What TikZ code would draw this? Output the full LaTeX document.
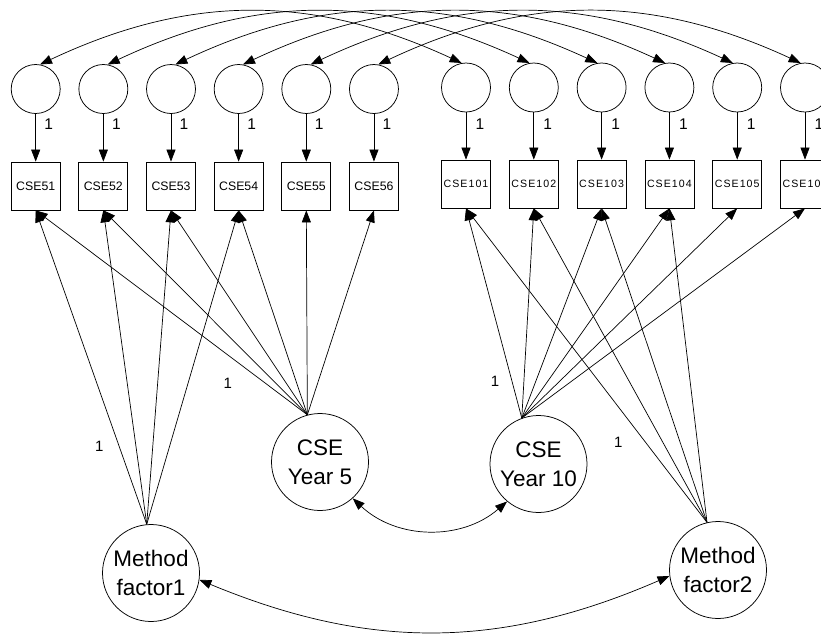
\documentclass[tikz,border=0pt]{standalone}
\usepackage{fontspec}
\setmainfont{Liberation Sans}
\newfontfamily\spacedfont[LetterSpace=10]{Liberation Sans}
\usetikzlibrary{arrows.meta}

\begin{document}
\begin{tikzpicture}[x=1pt,y=-1pt,
  >={Triangle[length=12pt,width=9pt]},
  errc/.style={circle,draw,line width=0.75pt,minimum size=49pt,inner sep=0pt},
  obs/.style={rectangle,draw,line width=0.75pt,minimum width=49pt,minimum height=48pt,inner sep=0pt},
  obsa/.style={obs,font=\fontsize{12.3}{14}\selectfont},
  obsb/.style={obs,font=\spacedfont\fontsize{10.6}{12}\selectfont},
  lat/.style={circle,draw,line width=0.75pt,minimum size=97pt,inner sep=0pt,align=center,
              font=\fontsize{22.5}{29}\selectfont},
  load/.style={->,line width=0.7pt},
  cov/.style={<->,line width=0.7pt},
  onetop/.style={inner sep=0pt,font=\fontsize{15.5}{16}\selectfont},
  onebot/.style={inner sep=0pt,font=\fontsize{15}{16}\selectfont},
]
\useasboundingbox (0,0) rectangle (821,635);
\clip (0,0) rectangle (821,635);

% Year 5 items with their error terms
\foreach \i/\x in {1/35.7,2/103.35,3/171,4/238.65,5/306.3,6/373.95}{
  \node[errc] (e\i) at (\x,89) {};
  \node[obsa] (b\i) at (\x,186) {CSE5\i};
  \draw[load] (e\i) -- (b\i);
  \node[onetop] (w\i) at (\x+13,124.5) {1};
}

% Year 10 items with their error terms
\foreach \i/\x/\n in {7/466/1,8/533.8/2,9/601.6/3,10/669.4/4,11/737.2/5,12/805/6}{
  \node[errc] (e\i) at (\x,87.5) {};
  \node[obsb] (b\i) at (\x,184) {CSE10\n};
  \draw[load] (e\i) -- (b\i);
  \node[onetop] (w\i) at (\x+14,124) {1};
}

% correlated errors between matching items
\foreach \i in {1,...,6}{
  \pgfmathtruncatemacro{\j}{\i+6}
  \draw[cov] (e\i.80) to[bend left=25] (e\j.100);
}

% latent factors
\node[lat] (y5)  at (320,462)   {CSE\\Year 5};
\node[lat] (y10) at (538.5,464) {CSE\\Year 10};
\node[lat] (m1)  at (151,573)   {Method\\factor1};
\node[lat] (m2)  at (718,570)   {Method\\factor2};

% factor loadings
\foreach \i in {1,...,6}  \draw[load] (y5.105)  -- (b\i.south);
\foreach \i in {1,...,4}  \draw[load] (m1.95)   -- (b\i.south);
\foreach \i in {7,...,12} \draw[load] (y10.110) -- (b\i.south);
\foreach \i in {7,...,10} \draw[load] (m2.103)  -- (b\i.south);

% fixed loadings
\node[onebot] (f1) at (227.7,383.3) {1};
\node[onebot] (f2) at (99.3,446)    {1};
\node[onebot] (f3) at (495,381)     {1};
\node[onebot] (f4) at (618.3,442.3) {1};

% factor covariances
\draw[cov] (y5.-48) to[bend right=42] (y10.-130);
\draw[cov] (m1.-8)  to[bend right=23] (m2.187);
\end{tikzpicture}
\end{document}
